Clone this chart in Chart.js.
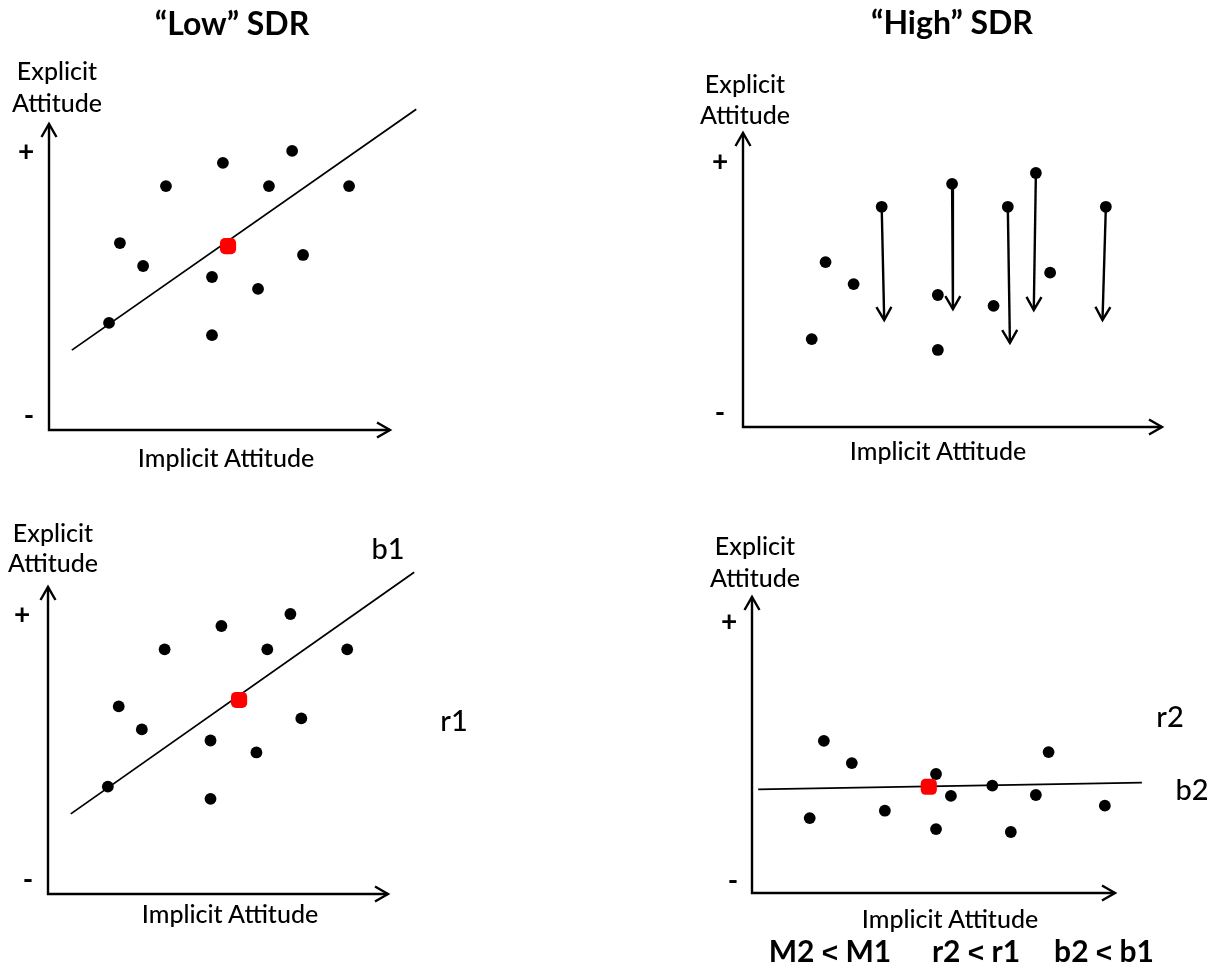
<!DOCTYPE html>
<html>
<head>
<meta charset="utf-8">
<script src="https://cdn.jsdelivr.net/npm/chart.js@4.4.1/dist/chart.umd.min.js"></script>
<style>
  body { margin: 0; background: #fff; }
  #page { position: relative; width: 1219px; height: 972px; overflow: hidden; font-family: Lato, "Open Sans", sans-serif; color: #000; }
  .box { position: absolute; }
  .t { position: absolute; transform: translate(-50%, -50%); white-space: nowrap; line-height: 1; }
  .lbl { font-size: 25px; font-weight: 500; }
  .title { font-size: 32px; font-weight: bold; }
  .sign { font-size: 28px; font-weight: bold; }
  .stat { font-size: 29px; font-weight: 500; }
  .sum { font-size: 30px; font-weight: bold; }
  .lt { font-family: "Liberation Sans", Arial, sans-serif; font-size: 28px; }
</style>
</head>
<body>
<div id="page">
  <div class="box" style="left:0;top:0"><canvas id="chartLow" width="609" height="486"></canvas></div>
  <div class="box" style="left:609px;top:0"><canvas id="chartHigh" width="610" height="486"></canvas></div>
  <div class="box" style="left:0;top:486px"><canvas id="chartLowFit" width="609" height="486"></canvas></div>
  <div class="box" style="left:609px;top:486px"><canvas id="chartHighFit" width="610" height="486"></canvas></div>

  <div class="t title" style="left:232px;top:23px">“Low” SDR</div>
  <div class="t title" style="left:952px;top:22px">“High” SDR</div>

  <div class="t lbl" style="left:57px;top:70px">Explicit</div>
  <div class="t lbl" style="left:57px;top:102px">Attitude</div>
  <div class="t sign" style="left:26px;top:150px">+</div>
  <div class="t sign" style="left:29px;top:414px">-</div>
  <div class="t lbl" style="left:226px;top:457px">Implicit Attitude</div>

  <div class="t lbl" style="left:745px;top:83px">Explicit</div>
  <div class="t lbl" style="left:745px;top:114px">Attitude</div>
  <div class="t sign" style="left:720px;top:160px">+</div>
  <div class="t sign" style="left:720px;top:411px">-</div>
  <div class="t lbl" style="left:938px;top:450px">Implicit Attitude</div>

  <div class="t lbl" style="left:53px;top:532px">Explicit</div>
  <div class="t lbl" style="left:53px;top:562px">Attitude</div>
  <div class="t sign" style="left:22px;top:613px">+</div>
  <div class="t sign" style="left:28px;top:878px">-</div>
  <div class="t lbl" style="left:230px;top:913px">Implicit Attitude</div>
  <div class="t stat" style="left:388px;top:547px">b1</div>
  <div class="t stat" style="left:454px;top:719px">r1</div>

  <div class="t lbl" style="left:755px;top:545px">Explicit</div>
  <div class="t lbl" style="left:755px;top:577px">Attitude</div>
  <div class="t sign" style="left:729px;top:620px">+</div>
  <div class="t sign" style="left:733px;top:879px">-</div>
  <div class="t lbl" style="left:950px;top:918px">Implicit Attitude</div>
  <div class="t stat" style="left:1170px;top:715px">r2</div>
  <div class="t stat" style="left:1192px;top:788px">b2</div>

  <div class="t sum" style="left:830px;top:951px">M2 <span class="lt">&lt;</span> M1</div>
  <div class="t sum" style="left:976px;top:951px">r2 <span class="lt">&lt;</span> r1</div>
  <div class="t sum" style="left:1104px;top:951px">b2 <span class="lt">&lt;</span> b1</div>
</div>
<script>
// axis units: origin at 0, arrow tips at 10
const AXIS_END = 10;
const AXIS_MAX = 11;

// "Low" SDR respondents (same cloud in both left panels)
const lowX = [1.76, 2.08, 2.76, 3.43, 5.10, 4.78, 4.78, 6.13, 6.45, 7.13, 7.45, 8.80];
const lowY = [3.50, 6.11, 5.36, 7.97, 8.73, 5.00, 3.10, 4.61, 7.97, 9.12, 5.72, 7.97];
const lowFitX = [0.67, 10.77];
const lowFitY = [2.61, 10.48];
const lowMeanTop = [5.25, 6.01];
const lowMeanBottom = [5.62, 6.32];

// "High" SDR respondents: honest answers and inflated answers that drop
const highX = [1.64, 1.97, 2.64, 4.65, 4.65, 5.98, 7.33];
const highY = [2.99, 5.61, 4.86, 4.49, 2.62, 4.12, 5.25];
const inflatedX = [3.31, 4.99, 6.32, 6.99, 8.66];
const inflatedY = [7.49, 8.27, 7.49, 8.64, 7.49];
const droppedX = [3.37, 5.01, 6.37, 6.94, 8.58];
const droppedY = [3.64, 4.01, 2.86, 3.98, 3.64];

// "High" SDR after the drop
const adjX = [1.98, 2.75, 1.59, 3.66, 5.07, 5.48, 5.07, 6.62, 7.13, 7.82, 8.17, 9.72];
const adjY = [5.14, 4.39, 2.53, 2.78, 4.02, 3.28, 2.16, 3.63, 2.06, 3.31, 4.76, 2.95];
const highFitX = [0.17, 10.74];
const highFitY = [3.50, 3.73];
const highMean = [4.87, 3.59];

const toPoints = (xs, ys) => xs.map((x, i) => ({ x: x, y: ys[i] }));

const drawHead = (ctx, x, y, dx, dy) => {
  const len = 13, half = 7.5;
  ctx.beginPath();
  ctx.moveTo(x - dx * len - dy * half, y - dy * len + dx * half);
  ctx.lineTo(x, y);
  ctx.lineTo(x - dx * len + dy * half, y - dy * len - dx * half);
  ctx.stroke();
};

const axesPlugin = {
  id: "axesArrows",
  beforeDatasetsDraw(chart) {
    const { ctx, scales } = chart;
    const x0 = scales.x.getPixelForValue(0);
    const y0 = scales.y.getPixelForValue(0);
    const xEnd = scales.x.getPixelForValue(AXIS_END);
    const yEnd = scales.y.getPixelForValue(AXIS_END);
    ctx.save();
    ctx.strokeStyle = "#000";
    ctx.lineWidth = 2.4;
    ctx.beginPath();
    ctx.moveTo(x0, yEnd);
    ctx.lineTo(x0, y0);
    ctx.lineTo(xEnd, y0);
    ctx.stroke();
    drawHead(ctx, x0, yEnd, 0, -1);
    drawHead(ctx, xEnd, y0, 1, 0);
    ctx.restore();
  },
  afterDatasetsDraw(chart) {
    // heads for the drop arrows
    const { ctx } = chart;
    ctx.save();
    ctx.strokeStyle = "#000";
    ctx.lineWidth = 2.4;
    chart.data.datasets.forEach((ds, i) => {
      if (!ds.isDrop) return;
      const pts = chart.getDatasetMeta(i).data;
      const a = pts[0], b = pts[1];
      const d = Math.hypot(b.x - a.x, b.y - a.y);
      drawHead(ctx, b.x, b.y, (b.x - a.x) / d, (b.y - a.y) / d);
    });
    ctx.restore();
  },
};

const dots = (xs, ys) => ({
  data: toPoints(xs, ys),
  pointRadius: 5.9,
  pointBorderWidth: 0,
  backgroundColor: "#000",
});

const mean = (m) => ({
  data: [{ x: m[0], y: m[1] }],
  pointStyle: "rectRounded",
  pointRadius: 9.4,
  pointBorderWidth: 0,
  backgroundColor: "#ff0000",
});

const fit = (xs, ys) => ({
  data: toPoints(xs, ys),
  showLine: true,
  borderColor: "#000",
  borderWidth: 1.8,
  pointRadius: 0,
});

const runPanel = (id, geo, datasets) => {
  const canvas = document.getElementById(id);
  const k = AXIS_MAX / AXIS_END;
  const ctx = canvas.getContext("2d");
  new Chart(ctx, {
    type: "scatter",
    data: { datasets: datasets },
    options: {
      responsive: false,
      animation: false,
      events: [],
      layout: {
        padding: {
          left: geo.ox,
          bottom: canvas.height - geo.oy,
          right: canvas.width - geo.ox - geo.ax * k,
          top: geo.oy - geo.ay * k,
        },
      },
      scales: {
        x: { type: "linear", min: 0, max: AXIS_MAX, display: false },
        y: { type: "linear", min: 0, max: AXIS_MAX, display: false },
      },
      plugins: {
        legend: { display: false },
        tooltip: { enabled: false },
      },
    },
    plugins: [axesPlugin],
  });
};

const runChartLow = () => {
  runPanel("chartLow", { ox: 49, oy: 430, ax: 341, ay: 306 }, [
    mean(lowMeanTop),
    dots(lowX, lowY),
    fit(lowFitX, lowFitY),
  ]);
};

const runChartHigh = () => {
  const drops = inflatedX.map((x, i) => ({
    data: [{ x: x, y: inflatedY[i] }, { x: droppedX[i], y: droppedY[i] }],
    isDrop: true,
    showLine: true,
    borderColor: "#000",
    borderWidth: 2.4,
    pointRadius: [5.9, 0],
    pointBorderWidth: 0,
    backgroundColor: "#000",
  }));
  runPanel("chartHigh", { ox: 134, oy: 427, ax: 419, ay: 294 }, [
    dots(highX, highY),
    ...drops,
  ]);
};

const runChartLowFit = () => {
  runPanel("chartLowFit", { ox: 48, oy: 408, ax: 340, ay: 307 }, [
    mean(lowMeanBottom),
    dots(lowX, lowY),
    fit(lowFitX, lowFitY),
  ]);
};

const runChartHighFit = () => {
  runPanel("chartHighFit", { ox: 143, oy: 407, ax: 363, ay: 296 }, [
    mean(highMean),
    dots(adjX, adjY),
    fit(highFitX, highFitY),
  ]);
};

runChartLow();
runChartHigh();
runChartLowFit();
runChartHighFit();
</script>
</body>
</html>
